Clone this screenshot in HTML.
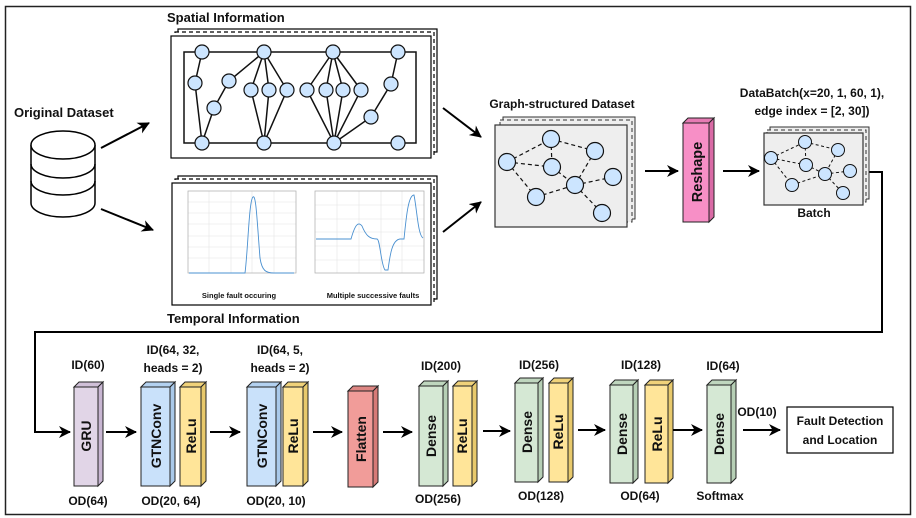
<!DOCTYPE html>
<html><head><meta charset="utf-8"><style>
html,body{margin:0;padding:0;background:#fff}
svg{display:block}
text{font-family:"Liberation Sans",Arial,sans-serif;font-weight:bold;fill:#111}
</style></head><body>
<svg width="916" height="518" viewBox="0 0 916 518" xmlns="http://www.w3.org/2000/svg">
<defs>
<marker id="ah" markerWidth="12" markerHeight="12" refX="11" refY="6" orient="auto" markerUnits="userSpaceOnUse">
<path d="M0,0 L12,6 L0,12 L3.5,6 z" fill="#000"/></marker>
</defs>
<rect x="5.5" y="6.5" width="905" height="508" fill="none" stroke="#222" stroke-width="1.5"/>

<polyline points="863,172 882,172 882,332 35,332 35,432 70,432" fill="none" stroke="#000" stroke-width="2" marker-end="url(#ah)"/>

<text x="14" y="117" font-size="13">Original Dataset</text>
<g fill="#fff" stroke="#000" stroke-width="1.5">
<path d="M31,145 L31,203 A32,14 0 0 0 95,203 L95,145"/>
<path d="M31,181 A32,14 0 0 0 95,181" fill="none"/>
<path d="M31,164 A32,14 0 0 0 95,164" fill="none"/>
<ellipse cx="63" cy="145" rx="32" ry="14"/>
</g>
<line x1="101" y1="148" x2="149" y2="123" stroke="#000" stroke-width="2" marker-end="url(#ah)"/>
<line x1="101" y1="209" x2="153" y2="230" stroke="#000" stroke-width="2" marker-end="url(#ah)"/>

<text x="167" y="22" font-size="13">Spatial Information</text>
<rect x="178" y="29" width="259" height="123" fill="#fff" stroke="#000" stroke-width="1.2"/>
<rect x="175" y="32" width="259" height="123" fill="#fff" stroke="#000" stroke-width="1.2" stroke-dasharray="4,3"/>
<rect x="171" y="36" width="260" height="122" fill="#fff" stroke="#000" stroke-width="1.2"/>
<g stroke="#111" stroke-width="1.5" fill="none">
<rect x="184" y="52" width="232" height="91"/>
<polyline points="202,52 195,83 202,143"/>
<polyline points="202,143 214,108 229,81 264,52"/>
<path d="M264,52 L251,90 L264,143 M264,52 L269,90 L264,143 M264,52 L287,90 L264,143"/>
<path d="M333,52 L307,90 L334,143 M333,52 L326,90 L334,143 M333,52 L343,90 L334,143 M333,52 L361,90 L334,143"/>
<polyline points="334,143 371,117 391,84 398,52"/>
</g>
<g fill="#cce5ff" stroke="#111" stroke-width="1.2">
<circle cx="202" cy="52" r="7"/><circle cx="264" cy="52" r="7"/><circle cx="333" cy="52" r="7"/><circle cx="398" cy="52" r="7"/>
<circle cx="195" cy="83" r="7"/><circle cx="229" cy="81" r="7"/><circle cx="214" cy="108" r="7"/>
<circle cx="251" cy="90" r="7"/><circle cx="269" cy="90" r="7"/><circle cx="287" cy="90" r="7"/>
<circle cx="307" cy="90" r="7"/><circle cx="326" cy="90" r="7"/><circle cx="343" cy="90" r="7"/><circle cx="361" cy="90" r="7"/>
<circle cx="391" cy="84" r="7"/><circle cx="371" cy="117" r="7"/>
<circle cx="202" cy="143" r="7"/><circle cx="264" cy="143" r="7"/><circle cx="334" cy="143" r="7"/><circle cx="398" cy="143" r="7"/>
</g>

<rect x="178" y="176" width="259" height="123" fill="#fff" stroke="#000" stroke-width="1.2"/>
<rect x="175" y="179" width="259" height="123" fill="#fff" stroke="#000" stroke-width="1.2" stroke-dasharray="4,3"/>
<rect x="172" y="183" width="259" height="122" fill="#fff" stroke="#000" stroke-width="1.2"/>
<g stroke="#e4e4e4" stroke-width="0.6">
<path d="M209,191V273M231,191V273M252,191V273M274,191V273M188,202H296M188,213H296M188,224H296M188,236H296M188,247H296M188,258H296"/>
<path d="M337,191V273M359,191V273M381,191V273M402,191V273M315,205H424M315,219H424M315,232H424M315,246H424M315,260H424"/>
</g>
<rect x="188" y="191" width="108" height="82" fill="none" stroke="#aaa" stroke-width="0.7"/>
<rect x="315" y="191" width="109" height="82" fill="none" stroke="#aaa" stroke-width="0.7"/>
<path d="M189,273 L245,273 C248,250 249,200 253,197 C256,194 257,220 260,258 C262,271 266,273 274,273 L294,273" fill="none" stroke="#4a90d0" stroke-width="0.9"/>
<path d="M316,239 L351,239 C355,225 358,221 362,226 C366,236 370,239 377,239 C380,239 381,265 385,270 L388,270 C390,255 392,240 400,239 L404,239 C406,220 408,195 414,195 C417,210 418,235 423,238" fill="none" stroke="#4a90d0" stroke-width="0.9"/>
<text x="239" y="298" font-size="7.5" text-anchor="middle">Single fault occuring</text>
<text x="373" y="298" font-size="7.5" text-anchor="middle">Multiple successive faults</text>
<text x="167" y="323" font-size="13">Temporal Information</text>

<line x1="443" y1="108" x2="481" y2="137" stroke="#000" stroke-width="2" marker-end="url(#ah)"/>
<line x1="443" y1="232" x2="481" y2="202" stroke="#000" stroke-width="2" marker-end="url(#ah)"/>

<text x="562" y="108" font-size="12" text-anchor="middle">Graph-structured Dataset</text>
<rect x="503" y="117" width="132" height="102" fill="#eee" stroke="#333" stroke-width="1"/>
<rect x="500" y="120" width="132" height="102" fill="#eee" stroke="#333" stroke-width="1" stroke-dasharray="4,3"/>
<rect x="495" y="125" width="132" height="102" fill="#eee" stroke="#333" stroke-width="1.2"/>
<g stroke="#111" stroke-width="1.2" stroke-dasharray="4,3">
<path d="M507,162L551,139M551,139L595,151M551,139L552,167M507,162L552,167M507,162L536,197M536,197L575,185M552,167L575,185M595,151L575,185M575,185L613,177M575,185L602,213"/>
</g>
<g fill="#cce5ff" stroke="#111" stroke-width="1.2">
<circle cx="507" cy="162" r="8.5"/><circle cx="551" cy="139" r="8.5"/><circle cx="595" cy="151" r="8.5"/><circle cx="552" cy="167" r="8.5"/>
<circle cx="575" cy="185" r="8.5"/><circle cx="613" cy="177" r="8.5"/><circle cx="536" cy="197" r="8.5"/><circle cx="602" cy="213" r="8.5"/>
</g>
<line x1="645" y1="171" x2="678" y2="171" stroke="#000" stroke-width="2" marker-end="url(#ah)"/>

<g stroke="#222" stroke-width="1">
<polygon points="683,123 688,118 714,118 709,123" fill="#e67bb4"/>
<polygon points="709,123 714,118 714,217 709,222" fill="#d96aa5"/>
<rect x="683" y="123" width="26" height="99" fill="#f78fc6"/>
</g>
<text transform="translate(702,172) rotate(-90)" font-size="14.5" text-anchor="middle">Reshape</text>
<line x1="723" y1="171" x2="759" y2="171" stroke="#000" stroke-width="2" marker-end="url(#ah)"/>

<text x="812" y="97" font-size="12" text-anchor="middle">DataBatch(x=20, 1, 60, 1),</text>
<text x="812" y="115" font-size="12" text-anchor="middle">edge index = [2, 30])</text>
<rect x="770" y="127" width="99" height="72" fill="#eee" stroke="#333" stroke-width="1"/>
<rect x="767" y="130" width="99" height="72" fill="#eee" stroke="#333" stroke-width="1" stroke-dasharray="4,3"/>
<rect x="764" y="133" width="99" height="72" fill="#eee" stroke="#333" stroke-width="1.2"/>
<g stroke="#111" stroke-width="1" stroke-dasharray="3,2.5">
<path d="M771,158L805,142M805,142L838,150M771,158L806,165M805,142L806,165M806,165L825,174M771,158L792,185M792,185L825,174M838,150L825,174M825,174L850,171M825,174L843,193"/>
</g>
<g fill="#cce5ff" stroke="#111" stroke-width="1">
<circle cx="771" cy="158" r="6.5"/><circle cx="805" cy="142" r="6.5"/><circle cx="838" cy="150" r="6.5"/><circle cx="806" cy="165" r="6.5"/>
<circle cx="825" cy="174" r="6.5"/><circle cx="850" cy="171" r="6.5"/><circle cx="792" cy="185" r="6.5"/><circle cx="843" cy="193" r="6.5"/>
</g>
<text x="814" y="217" font-size="12" text-anchor="middle">Batch</text>

<g stroke="#222" stroke-width="1">
<polygon points="74,387 79,382 103,382 98,387" fill="#d0c0d8"/><polygon points="98,387 103,382 103,481 98,486" fill="#c8b6d2"/><rect x="74" y="387" width="24" height="99" fill="#e1d5e7"/>
<polygon points="141,387 146,382 175,382 170,387" fill="#b3d1f0"/><polygon points="170,387 175,382 175,481 170,486" fill="#a9c9ea"/><rect x="141" y="387" width="29" height="99" fill="#c9e1fa"/>
<polygon points="180,387 185,382 206,382 201,387" fill="#f0d27a"/><polygon points="201,387 206,382 206,481 201,486" fill="#e8c96c"/><rect x="180" y="387" width="21" height="99" fill="#ffe599"/>
<polygon points="247,387 252,382 281,382 276,387" fill="#b3d1f0"/><polygon points="276,387 281,382 281,481 276,486" fill="#a9c9ea"/><rect x="247" y="387" width="29" height="99" fill="#c9e1fa"/>
<polygon points="283,387 288,382 308,382 303,387" fill="#f0d27a"/><polygon points="303,387 308,382 308,481 303,486" fill="#e8c96c"/><rect x="283" y="387" width="20" height="99" fill="#ffe599"/>
<polygon points="348,391 353,386 378,386 373,391" fill="#dd8683"/><polygon points="373,391 378,386 378,482 373,487" fill="#d67a77"/><rect x="348" y="391" width="25" height="96" fill="#f19c99"/>
<polygon points="419,386 424,381 448,381 443,386" fill="#bfd6be"/><polygon points="443,386 448,381 448,481 443,486" fill="#b6cfb5"/><rect x="419" y="386" width="24" height="100" fill="#d5e8d4"/>
<polygon points="453,386 458,381 477,381 472,386" fill="#f0d27a"/><polygon points="472,386 477,381 477,481 472,486" fill="#e8c96c"/><rect x="453" y="386" width="19" height="100" fill="#ffe599"/>
<polygon points="515,383 520,378 543,378 538,383" fill="#bfd6be"/><polygon points="538,383 543,378 543,477 538,482" fill="#b6cfb5"/><rect x="515" y="383" width="23" height="99" fill="#d5e8d4"/>
<polygon points="549,383 554,378 573,378 568,383" fill="#f0d27a"/><polygon points="568,383 573,378 573,477 568,482" fill="#e8c96c"/><rect x="549" y="383" width="19" height="99" fill="#ffe599"/>
<polygon points="610,385 615,380 638,380 633,385" fill="#bfd6be"/><polygon points="633,385 638,380 638,478 633,483" fill="#b6cfb5"/><rect x="610" y="385" width="23" height="98" fill="#d5e8d4"/>
<polygon points="645,385 650,380 673,380 668,385" fill="#f0d27a"/><polygon points="668,385 673,380 673,478 668,483" fill="#e8c96c"/><rect x="645" y="385" width="23" height="98" fill="#ffe599"/>
<polygon points="707,385 712,380 736,380 731,385" fill="#bfd6be"/><polygon points="731,385 736,380 736,478 731,483" fill="#b6cfb5"/><rect x="707" y="385" width="24" height="98" fill="#d5e8d4"/>
</g>
<g font-size="14">
<text transform="translate(91,436) rotate(-90)" text-anchor="middle">GRU</text>
<text transform="translate(161,436) rotate(-90)" text-anchor="middle">GTNConv</text>
<text transform="translate(196,436) rotate(-90)" text-anchor="middle">ReLu</text>
<text transform="translate(267,436) rotate(-90)" text-anchor="middle">GTNConv</text>
<text transform="translate(298,436) rotate(-90)" text-anchor="middle">ReLu</text>
<text transform="translate(366,439) rotate(-90)" text-anchor="middle">Flatten</text>
<text transform="translate(436,436) rotate(-90)" text-anchor="middle">Dense</text>
<text transform="translate(467,436) rotate(-90)" text-anchor="middle">ReLu</text>
<text transform="translate(532,432) rotate(-90)" text-anchor="middle">Dense</text>
<text transform="translate(563,432) rotate(-90)" text-anchor="middle">ReLu</text>
<text transform="translate(627,434) rotate(-90)" text-anchor="middle">Dense</text>
<text transform="translate(662,434) rotate(-90)" text-anchor="middle">ReLu</text>
<text transform="translate(724,434) rotate(-90)" text-anchor="middle">Dense</text>
</g>
<g font-size="12" text-anchor="middle">
<text x="88" y="369">ID(60)</text>
<text x="173" y="354">ID(64, 32,</text><text x="173" y="372">heads = 2)</text>
<text x="280" y="354">ID(64, 5,</text><text x="280" y="372">heads = 2)</text>
<text x="441" y="370">ID(200)</text>
<text x="539" y="369">ID(256)</text>
<text x="641" y="369">ID(128)</text>
<text x="723" y="370">ID(64)</text>
<text x="88" y="505">OD(64)</text>
<text x="171" y="505">OD(20, 64)</text>
<text x="276" y="505">OD(20, 10)</text>
<text x="438" y="503">OD(256)</text>
<text x="541" y="500">OD(128)</text>
<text x="640" y="500">OD(64)</text>
<text x="720" y="500">Softmax</text>
<text x="757" y="416">OD(10)</text>
</g>
<g stroke="#000" stroke-width="2">
<line x1="106" y1="432" x2="136" y2="432" marker-end="url(#ah)"/>
<line x1="210" y1="432" x2="240" y2="432" marker-end="url(#ah)"/>
<line x1="313" y1="432" x2="342" y2="432" marker-end="url(#ah)"/>
<line x1="383" y1="432" x2="412" y2="432" marker-end="url(#ah)"/>
<line x1="483" y1="431" x2="510" y2="431" marker-end="url(#ah)"/>
<line x1="578" y1="430" x2="605" y2="430" marker-end="url(#ah)"/>
<line x1="673" y1="430" x2="702" y2="430" marker-end="url(#ah)"/>
<line x1="743" y1="430" x2="780" y2="430" marker-end="url(#ah)"/>
</g>
<rect x="787" y="407" width="106" height="46" fill="#fff" stroke="#000" stroke-width="1.2"/>
<text x="840" y="425" font-size="12" text-anchor="middle">Fault Detection</text>
<text x="840" y="444" font-size="12" text-anchor="middle">and Location</text>
</svg>
</body></html>
